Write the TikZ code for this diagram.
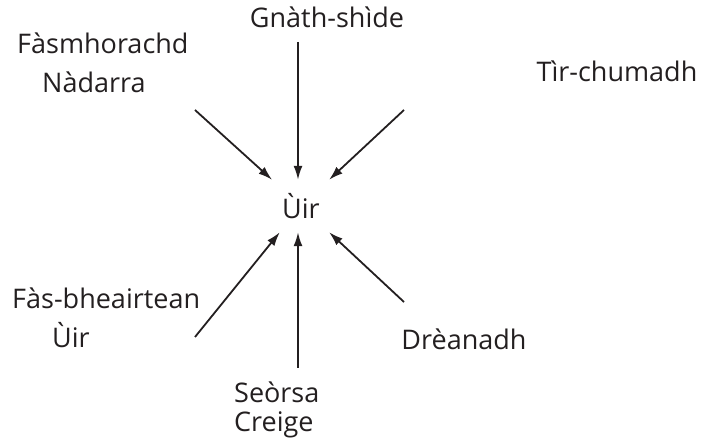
\documentclass[tikz,border=0pt]{standalone}
\usepackage{fontspec}
\setmainfont{Open Sans}
\usetikzlibrary{arrows.meta}
\definecolor{inkgrey}{RGB}{35,31,32}

\begin{document}
\begin{tikzpicture}[x=1pt,y=-1pt,
    factor/.style={font=\fontsize{27}{39}\selectfont,text=inkgrey,inner sep=0pt},
    influence/.style={draw=inkgrey,line width=1.8pt,-{Latex[length=14pt,width=9pt]}}]

    \useasboundingbox (0,0) rectangle (702,443);

    % Place the soil in the middle
    \node[factor,minimum width=64pt,minimum height=52pt] (uir) at (301,206) {Ùir};

    % Place the factors around it
    \node[factor,anchor=base] (climate) at (327,28) {Gnàth-shìde};
    \node[factor,anchor=base west,align=left] (organisms) at (17,93) {Fàsmhorachd\\\hspace*{25pt}Nàdarra};
    \node[factor,anchor=base] (relief) at (617,82) {Tìr-chumadh};
    \node[factor,anchor=base west,align=left] (soiltime) at (12,348) {Fàs-bheairtean\\\hspace*{40pt}Ùir};
    \node[factor,anchor=base west,align=left,font=\fontsize{27}{29}\selectfont] (parent) at (234,432) {Seòrsa\\Creige};
    \node[factor,anchor=base] (drainage) at (464,350) {Drèanadh};

    % Tails of the arrows
    \coordinate (t1) at (195,110);
    \coordinate (t2) at (298,42);
    \coordinate (t3) at (404,110);
    \coordinate (t4) at (195,337);
    \coordinate (t5) at (298,368);
    \coordinate (t6) at (404,302);

    % Draw the arrows into the soil
    \draw[influence] (t1) -- (uir);
    \draw[influence] (t2) -- (t2 |- uir.north);
    \draw[influence] (t3) -- (uir);
    \draw[influence] (t4) -- (uir);
    \draw[influence] (t5) -- (t5 |- uir.south);
    \draw[influence] (t6) -- (uir);

\end{tikzpicture}
\end{document}
